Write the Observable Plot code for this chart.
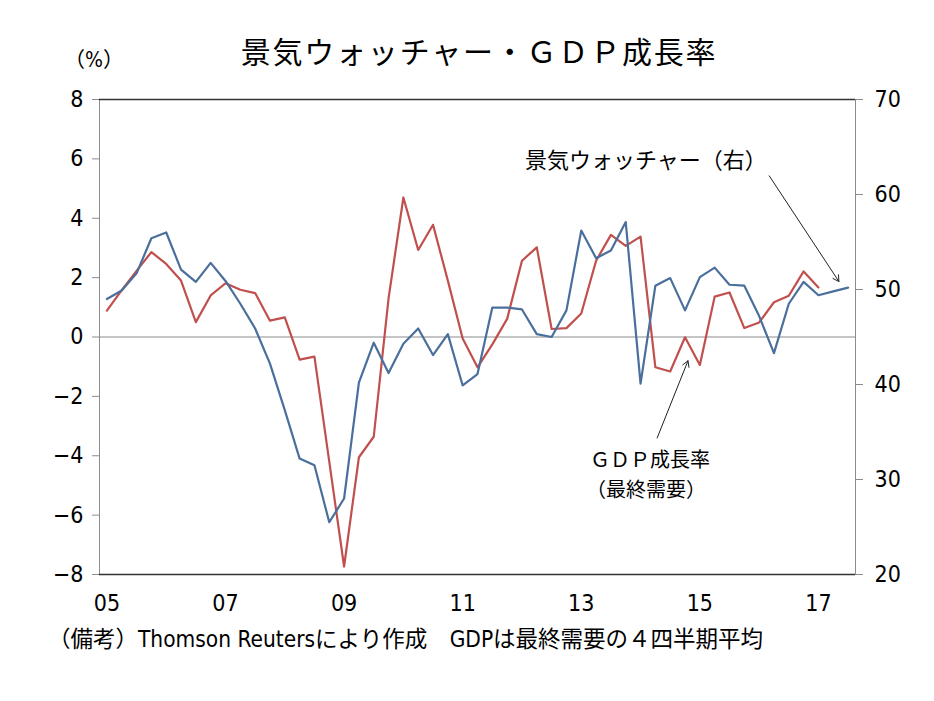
<!DOCTYPE html>
<html><head><meta charset="utf-8">
<script src="https://cdn.jsdelivr.net/npm/d3@7"></script>
<script src="https://cdn.jsdelivr.net/npm/@observablehq/plot@0.6"></script>
<style>
body{margin:0;background:#fff;}
#wrap{position:relative;width:934px;height:701px;overflow:hidden;background:#fff;}
#chart{position:absolute;left:0;top:0;}
#chart g[aria-label$="axis tick label"] text{font-stretch:condensed;}
.t{position:absolute;white-space:nowrap;color:#000;font-family:"Noto Sans CJK JP",sans-serif;line-height:1;}
#title{left:479px;top:35px;font-size:30px;letter-spacing:1.8px;transform:translateX(-50%);}
#unit{left:64px;top:50px;font-size:21px;font-family:"DejaVu Sans","Noto Sans CJK JP",sans-serif;font-stretch:condensed;}
#caption{left:48px;top:628px;font-size:22.5px;font-family:"DejaVu Sans","Noto Sans CJK JP",sans-serif;font-stretch:condensed;}
</style></head><body>
<div id="wrap">
  <div id="chart"></div>
  <div class="t" id="title">景気ウォッチャー・ＧＤＰ成長率</div>
  <div class="t" id="unit">（%）</div>
  <div class="t" id="caption">（備考）Thomson Reutersにより作成　GDPは最終需要の４四半期平均</div>
</div>
<script>
// Quarterly series starting 2005 Q1
const startYear = 2005;
// 景気ウォッチャー (right axis, DI)
const watcher = [49.0, 49.9, 51.7, 55.4, 56.0, 52.1, 50.8, 52.8, 50.9, 48.5,
  45.9, 42.2, 37.3, 32.2, 31.5, 25.5, 28.0, 40.2, 44.4, 41.2,
  44.3, 45.9, 43.1, 45.3, 39.9, 41.1, 48.1, 48.1, 47.9, 45.3,
  45.0, 47.8, 56.2, 53.3, 54.1, 57.1, 40.1, 50.4, 51.2, 47.8,
  51.3, 52.3, 50.5, 50.4, 47.2, 43.3, 48.5, 50.8, 49.4, 49.8, 50.2];
// GDP成長率（最終需要, %, left axis)
const gdp = [0.89, 1.58, 2.23, 2.86, 2.46, 1.90, 0.50, 1.40, 1.81, 1.59,
  1.48, 0.55, 0.66, -0.76, -0.66, -4.2, -7.73, -4.05, -3.36, 1.3,
  4.70, 2.93, 3.78, 1.9, -0.05, -1.02, -0.25, 0.61, 2.57, 3.02,
  0.27, 0.30, 0.79, 2.57, 3.44, 3.07, 3.38, -1.02, -1.16, -0.01,
  -0.94, 1.36, 1.50, 0.30, 0.49, 1.17, 1.39, 2.21, 1.67];
const xTickYears = [2005, 2007, 2009, 2011, 2013, 2015, 2017];
const leftTicks = [-8, -6, -4, -2, 0, 2, 4, 6, 8];
const rightTicks = [20, 30, 40, 50, 60, 70];
// annotations (data space: year, left-axis %)
const annoText = ["景気ウォッチャー（右）", "ＧＤＰ成長率", "（最終需要）"];
const annoX = [2014.09, 2014.16, 2014.09];
const annoY = [5.94, -4.17, -5.17];
const annoSize = [22, 20, 20];
const arrowFrom = [[2016.17, 5.43], [2014.28, -3.40]];
const arrowTo = [[2017.345, 1.87], [2014.80, -0.80]];

// dual axis mapping: right 20..70 <-> left -8..8
const rMin = d3.min(rightTicks), rMax = d3.max(rightTicks);
const lMin = d3.min(leftTicks), lMax = d3.max(leftTicks);
const toLeft = r => lMin + (r - rMin) * (lMax - lMin) / (rMax - rMin);
const toRight = l => rMin + (l - lMin) * (rMax - rMin) / (lMax - lMin);

const watcherRows = watcher.map((v, i) => ({t: startYear + i / 4, v: toLeft(v)}));
const gdpRows = gdp.map((v, i) => ({t: startYear + i / 4, v}));
const annos = annoText.map((text, i) => ({text, x: annoX[i], y: annoY[i], size: annoSize[i]}));
const arrows = arrowFrom.map((a, i) => ({x1: a[0], y1: a[1], x2: arrowTo[i][0], y2: arrowTo[i][1]}));

const numFont = "'DejaVu Sans',sans-serif";
const xDomain = [startYear - 0.125, startYear + (watcher.length - 1) / 4 + 0.125];

const chart = Plot.plot({
  width: 934, height: 701,
  marginLeft: 99, marginRight: 79, marginTop: 99, marginBottom: 127,
  x: {domain: xDomain},
  y: {domain: [lMin, lMax]},
  style: {background: "#fff", color: "#000"},
  marks: [
    Plot.frame({stroke: "#8c8c8c"}),
    Plot.ruleY([lMin, lMax], {stroke: "#333", strokeWidth: 1.6}),
    Plot.ruleY([0], {stroke: "#8c8c8c", strokeWidth: 1.2}),
    Plot.axisY(leftTicks, {anchor: "left", tickSize: 7, tickPadding: 9, stroke: "#8c8c8c", fill: "#000",
      fontSize: 23, fontFamily: numFont, label: null}),
    Plot.axisY(rightTicks.map(toLeft), {anchor: "right", tickSize: 7, tickPadding: 12, stroke: "#8c8c8c", fill: "#000",
      fontSize: 23, fontFamily: numFont, label: null, tickFormat: d => String(Math.round(toRight(d)))}),
    Plot.axisX(xTickYears, {anchor: "bottom", tickSize: 0, tickPadding: 20, fill: "#000",
      fontSize: 23, fontFamily: numFont, label: null,
      tickFormat: d => String(d % 100).padStart(2, "0")}),
    Plot.line(gdpRows, {x: "t", y: "v", stroke: "#c0504d", strokeWidth: 2.2}),
    Plot.line(watcherRows, {x: "t", y: "v", stroke: "#4a6f9c", strokeWidth: 2.2}),
    Plot.arrow(arrows, {x1: "x1", y1: "y1", x2: "x2", y2: "y2", stroke: "#222", strokeWidth: 1, headLength: 10, bend: 0}),
    Plot.text(annos, {x: "x", y: "y", text: "text", fontSize: "size", fill: "#000",
      fontFamily: "'Noto Sans CJK JP',sans-serif", textAnchor: "middle", lineAnchor: "middle"})
  ]
});
document.getElementById("chart").appendChild(chart);
</script>
</body></html>
